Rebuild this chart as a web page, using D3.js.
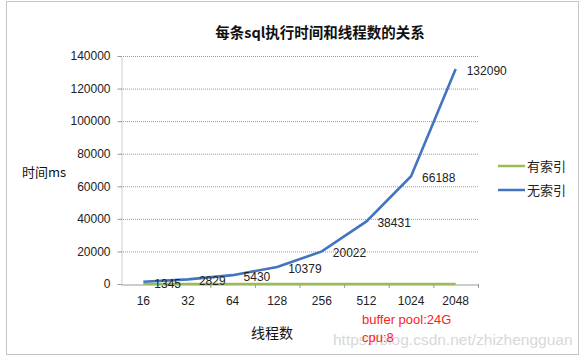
<!DOCTYPE html>
<html><head><meta charset="utf-8">
<script src="https://cdn.jsdelivr.net/npm/d3@7"></script>
<style>body{margin:0;background:#fff;}svg{display:block;}</style>
</head><body>
<svg id="c" width="587" height="359"></svg>
<script>
const categories = ["16","32","64","128","256","512","1024","2048"];
const withIndex = [20, 25, 30, 40, 50, 60, 80, 100];
const noIndex = [1345, 2829, 5430, 10379, 20022, 38431, 66188, 132090];
const yTicks = [0,20000,40000,60000,80000,100000,120000,140000];
const seriesNames = ["有索引","无索引"];
const colors = ["#9BBB59","#4374C0"];

const svg = d3.select("#c");
const cjk = "'Noto Sans CJK SC', sans-serif";
const num = "'Liberation Sans', Arial, sans-serif";

svg.append("rect").attr("x",6.5).attr("y",1.5).attr("width",572).attr("height",353)
  .attr("fill","#fff").attr("stroke","#888").attr("stroke-dasharray","1,1");

const L=121,R=478,T=56,B=284;
const x = d3.scaleBand().domain(categories).range([L,R]);
const y = d3.scaleLinear().domain([0,140000]).range([B,T]);

svg.append("g").selectAll("line").data(yTicks.filter(d=>d>0)).join("line")
  .attr("x1",L).attr("x2",R).attr("y1",d=>y(d)+0.5).attr("y2",d=>y(d)+0.5)
  .attr("stroke","#999").attr("stroke-dasharray","1,1");

const ya = svg.append("g").attr("transform",`translate(${L+0.5},0)`)
  .call(d3.axisLeft(y).tickValues(yTicks).tickFormat(d3.format("d")).tickSize(4).tickPadding(7).tickSizeOuter(0));
ya.select(".domain").attr("stroke","#999").attr("stroke-dasharray","1,1");
ya.selectAll(".tick line").attr("stroke","#999");
ya.selectAll("text").attr("font-family",num).attr("font-size",12).attr("fill","#222");

const xa = svg.append("g").attr("transform",`translate(0,${B+0.5})`)
  .call(d3.axisBottom(x).tickSize(0).tickPadding(12));
xa.select(".domain").attr("stroke","#999");
xa.selectAll("text").attr("font-family",num).attr("font-size",12).attr("fill","#222");
svg.append("g").selectAll("line").data(categories).join("line")
  .attr("x1",d=>x(d)+x.bandwidth()+0.5).attr("x2",d=>x(d)+x.bandwidth()+0.5)
  .attr("y1",B).attr("y2",B+4).attr("stroke","#999");

const cx = d=>x(d)+x.bandwidth()/2;
const line = d3.line().x((d,i)=>cx(categories[i])).y(d=>y(d));
svg.append("path").datum(withIndex).attr("d",line).attr("fill","none")
  .attr("stroke",colors[0]).attr("stroke-width",2.2);
svg.append("path").datum(noIndex).attr("d",line).attr("fill","none")
  .attr("stroke",colors[1]).attr("stroke-width",2.6);

svg.append("g").selectAll("text").data(noIndex).join("text")
  .attr("x",(d,i)=>cx(categories[i])+11).attr("y",(d,i)=>y(d)+6)
  .attr("font-family",num).attr("font-size",12).attr("fill","#222").text(d=>d);

svg.append("text").attr("x",320).attr("y",38).attr("text-anchor","middle")
  .attr("font-family",cjk).attr("font-size",14.5).attr("font-weight","bold").attr("fill","#111")
  .text("每条sql执行时间和线程数的关系");
svg.append("text").attr("x",22).attr("y",177).attr("font-family",cjk).attr("font-size",13).attr("fill","#111").text("时间ms");
svg.append("text").attr("x",272).attr("y",338).attr("text-anchor","middle").attr("font-family",cjk).attr("font-size",14).attr("fill","#111").text("线程数");

const lg = svg.append("g").selectAll("g").data(seriesNames).join("g")
  .attr("transform",(d,i)=>`translate(498,${166+i*24})`);
lg.append("line").attr("x1",0).attr("x2",27).attr("y1",0).attr("y2",0)
  .attr("stroke",(d,i)=>colors[i]).attr("stroke-width",2.5);
lg.append("text").attr("x",29).attr("y",5).attr("font-family",cjk).attr("font-size",13).attr("fill","#222").text(d=>d);

svg.append("text").attr("x",333).attr("y",345).attr("font-family",num).attr("font-size",15.5).attr("fill","#c8c8c8").attr("opacity",0.7).text("https://blog.csdn.net/zhizhengguan");
svg.append("text").attr("x",362).attr("y",324).attr("font-family",num).attr("font-size",13).attr("fill","#ff2020").text("buffer pool:24G");
svg.append("text").attr("x",362).attr("y",342).attr("font-family",num).attr("font-size",13).attr("fill","#ff2020").text("cpu:8");
</script>
</body></html>
